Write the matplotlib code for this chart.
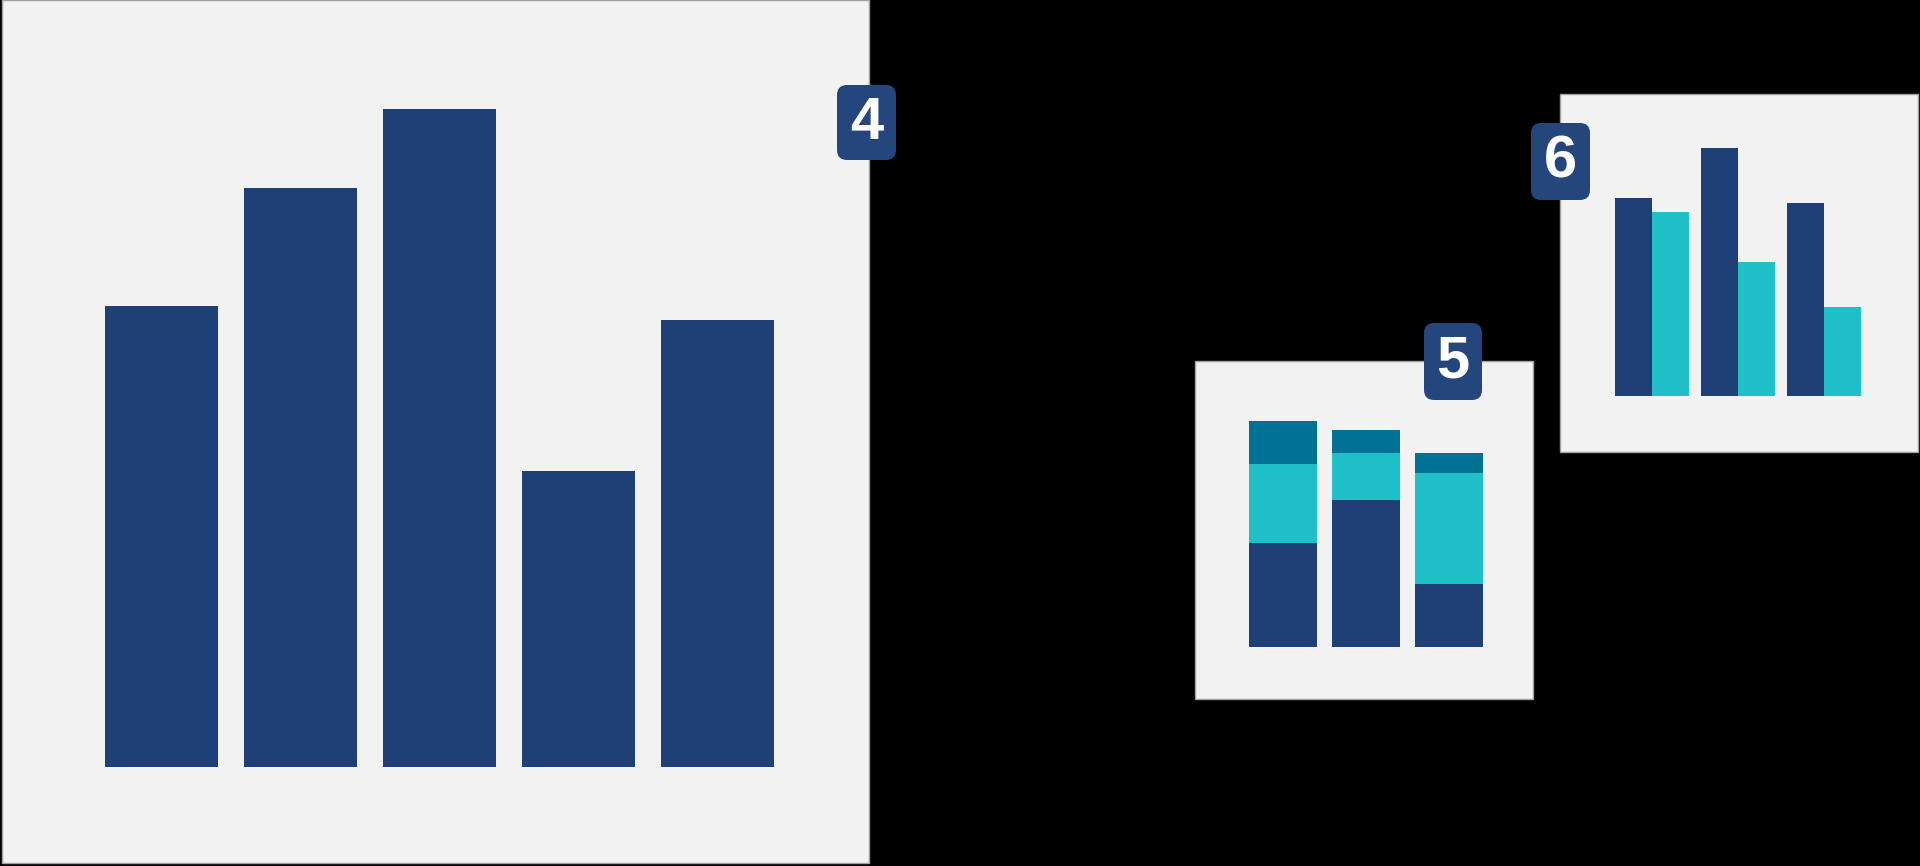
import matplotlib
matplotlib.use("Agg")
import matplotlib.pyplot as plt
from matplotlib.patches import Rectangle, FancyBboxPatch
import numpy as np

# panel 4: simple bars
single_vals = [7.0, 8.8, 10.0, 4.5, 6.8]
# panel 5: stacked bars (bottom -> top)
stack_base = [4.6, 6.5, 2.8]
stack_mid = [3.5, 2.1, 4.9]
stack_top = [1.9, 1.0, 0.9]
# panel 6: grouped bars
group_a = [8.0, 10.0, 7.8]
group_b = [7.4, 5.4, 3.6]
badge_labels = ["4", "5", "6"]

NAVY = "#1f3f77"
CYAN = "#20c0c8"
TEAL = "#007394"
BADGE = "#24467d"
PANEL = "#f2f2f2"

W, H = 1920, 866
fig = plt.figure(figsize=(W / 100, H / 100), dpi=100)
fig.patch.set_facecolor("black")


def px_axes(x0, y0, x1, y1, z=1):
    # pixel box (top-left origin) -> figure axes
    ax = fig.add_axes([x0 / W, 1 - y1 / H, (x1 - x0) / W, (y1 - y0) / H])
    ax.set_zorder(z)
    ax.patch.set_alpha(0)
    ax.axis("off")
    return ax


# background with the three panels
bg = px_axes(0, 0, W, H, z=0)
bg.set_xlim(0, W)
bg.set_ylim(H, 0)
for (x0, y0, x1, y1) in [(2, 0, 869, 863), (1195, 361, 1533, 699), (1560, 94, 1918, 452)]:
    bg.add_patch(Rectangle((x0, y0), x1 - x0, y1 - y0, facecolor=PANEL,
                           edgecolor="#a0a0a0", linewidth=1))

# panel 4 bars
ax1 = px_axes(92, 109, 787, 767)
ax1.bar(np.arange(len(single_vals)), single_vals, width=0.813, color=NAVY)
ax1.set_xlim(-0.5, len(single_vals) - 0.5)
ax1.set_ylim(0, 10)

# panel 5 stacked
ax2 = px_axes(1241.5, 421, 1490.5, 647)
x = np.arange(len(stack_base))
b1 = np.array(stack_base)
b2 = b1 + np.array(stack_mid)
ax2.bar(x, stack_base, width=0.82, color=NAVY)
ax2.bar(x, stack_mid, width=0.82, bottom=b1, color=CYAN)
ax2.bar(x, stack_top, width=0.82, bottom=b2, color=TEAL)
ax2.set_xlim(-0.5, 2.5)
ax2.set_ylim(0, 10)

# panel 6 grouped
ax3 = px_axes(1609, 148, 1867, 396)
x = np.arange(len(group_a))
ax3.bar(x - 0.215, group_a, width=0.43, color=NAVY)
ax3.bar(x + 0.215, group_b, width=0.43, color=CYAN)
ax3.set_xlim(-0.5, 2.5)
ax3.set_ylim(0, 10)

# number badges on top
top = px_axes(0, 0, W, H, z=5)
top.set_xlim(0, W)
top.set_ylim(H, 0)
badges = [(837, 85, 896, 160), (1424, 323, 1482, 400), (1531, 123, 1590, 200)]
for lab, (x0, y0, x1, y1) in zip(badge_labels, badges):
    top.add_patch(FancyBboxPatch((x0 + 10, y0 + 10), x1 - x0 - 20, y1 - y0 - 20,
                                 boxstyle="round,pad=10", facecolor=BADGE,
                                 edgecolor="none"))
    top.text((x0 + x1) / 2, (y0 + y1) / 2 + 1, lab, color="white", fontsize=43,
             fontweight="bold", family="Liberation Sans", ha="center", va="center")

fig.savefig("out.png", dpi=100, facecolor=fig.get_facecolor())
